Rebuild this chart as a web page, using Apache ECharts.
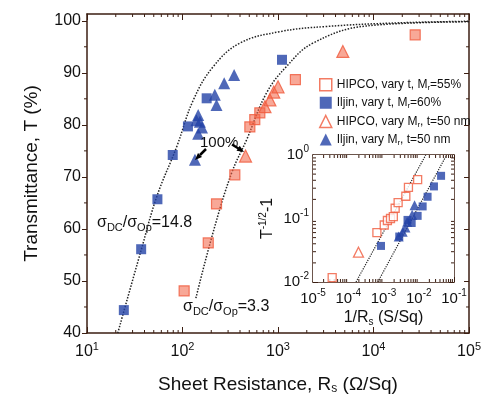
<!DOCTYPE html>
<html>
<head>
<meta charset="utf-8">
<script src="https://cdn.jsdelivr.net/npm/echarts@6/dist/echarts.min.js"></script>
<style>
html, body { margin: 0; padding: 0; background: #fff; }
#chart { width: 484px; height: 401px; }
</style>
</head>
<body>
<div id="chart"></div>
<script>
'use strict';

// main plot, [sheet resistance (ohm/sq), transmittance (%)]
var hipcoVaryT = [[104, 48.1], [186, 57.3], [227, 64.8], [353, 70.4], [507, 79.6], [571, 81.0], [645, 82.3], [1520, 88.7], [27300, 97.3]];
var iljinVaryT = [[24.3, 44.4], [36.9, 56.1], [54.6, 65.7], [79, 74.2], [114, 79.7], [179, 85.1], [1100, 92.5]];
var hipcoVaryM = [[457, 74.0], [730, 83.5], [822, 84.8], [902, 86.3], [1000, 87.3], [4770, 94.1]];
var iljinVaryM = [[135, 73.3], [146, 78.3], [152, 80.6], [140, 80.9], [146, 81.9], [160, 79.5], [227, 83.8], [218, 85.8], [273, 88.0], [347, 89.6]];

// dotted fit curves
var fit148 = [[21, 40], [37, 56], [54, 66.3], [87, 75.8], [130, 84.8], [210, 91.2], [398, 95.7], [1042, 97.9], [3200, 98.9], [18700, 99.6], [100000, 99.9]];
var fit33 = [[138, 46.7], [208, 59.2], [326, 70.7], [468, 77.1], [757, 86.1], [1225, 91.2], [2317, 95.7], [8380, 99.0], [100000, 99.8]];

// inset, [1/Rs (S/sq), T^-1/2 - 1]
var inHipcoT = [[3.5e-5, 0.0117], [6.5e-4, 0.060], [1.05e-3, 0.079], [1.29e-3, 0.093], [1.58e-3, 0.10], [1.9e-3, 0.107], [2.14e-3, 0.145], [2.6e-3, 0.178], [4.3e-3, 0.224], [5.1e-3, 0.31], [9.3e-3, 0.41]];
var inIljinT = [[8.5e-4, 0.037], [2.8e-3, 0.052], [4.8e-3, 0.095], [6.3e-3, 0.085], [9.3e-3, 0.11], [0.0129, 0.155], [0.0178, 0.22], [0.027, 0.32], [0.043, 0.47]];
var inHipcoM = [[1.95e-4, 0.0295]];
var inIljinM = [[7.6e-3, 0.162], [6.5e-3, 0.115], [4.7e-3, 0.089], [4.2e-3, 0.072], [3.5e-3, 0.062], [2.7e-3, 0.052]];
var inFit148 = [[6.9e-4, 0.01], [0.0617, 1]];
var inFit33 = [[1.66e-4, 0.01], [0.0158, 1]];

var yTicks = [40, 50, 60, 70, 80, 90, 100];
var yMinor = [45, 55, 65, 75, 85, 95];
var names = ['HIPCO, vary t, Mr=55%', 'Iljin, vary t, Mr=60%', 'HIPCO, vary Mr, t=50 nm', 'Iljin, vary Mr, t=50 nm'];
var legendRich = {};
legendRich[names[0]] = '{n|HIPCO, vary t, M}{s|r}{n|=55%}';
legendRich[names[1]] = '{n|Iljin, vary t, M}{s|r}{n|=60%}';
legendRich[names[2]] = '{n|HIPCO, vary M}{s|r}{n|, t=50 nm}';
legendRich[names[3]] = '{n|Iljin, vary M}{s|r}{n|, t=50 nm}';

var RED = '#f05a3c';
var BLUE = '#2342a6';
var AXIS = '#3b1e12';
var FONT = 'Liberation Sans';

function logDecades(e0, e1) {
    var out = [];
    for (var e = e0; e < e1; e++) {
        for (var m = 2; m < 10; m++) out.push(m * Math.pow(10, e));
    }
    return out;
}

function powLabel(size, sup) {
    return {
        formatter: function (v) {
            var e = Math.round(Math.log10(v));
            return '{b|10}{p|' + e + '}';
        },
        rich: {
            b: { fontSize: size, fontFamily: FONT, color: '#111' },
            p: { fontSize: sup, fontFamily: FONT, color: '#111', padding: [0, 0, 11, 0] }
        }
    };
}

// little minor ticks on log axes and between y labels
function minorTicks(g, xVals, yVals, xr, yr, leftOut) {
    var data = xVals.map(function (v) { return [v, yr[0], 0]; })
        .concat(yVals.map(function (v) { return [xr[0], v, 1]; }));
    return {
        type: 'custom', xAxisIndex: g * 2, yAxisIndex: g * 2, silent: true, clip: false, z: 6,
        data: data,
        renderItem: function (params, api) {
            var st = { stroke: AXIS, lineWidth: 1 };
            if (api.value(2) === 0) {
                var b = api.coord([api.value(0), yr[0]]), t = api.coord([api.value(0), yr[1]]);
                return { type: 'group', children: [
                    { type: 'line', shape: { x1: b[0], y1: b[1], x2: b[0], y2: b[1] - 3 }, style: st },
                    { type: 'line', shape: { x1: t[0], y1: t[1], x2: t[0], y2: t[1] + 3 }, style: st }
                ] };
            }
            var l = api.coord([xr[0], api.value(1)]), r = api.coord([xr[1], api.value(1)]);
            var d = leftOut ? -3 : 3;
            return { type: 'group', children: [
                { type: 'line', shape: { x1: l[0], y1: l[1], x2: l[0] + d, y2: l[1] }, style: st },
                { type: 'line', shape: { x1: r[0], y1: r[1], x2: r[0] - 3, y2: r[1] }, style: st }
            ] };
        }
    };
}

function frameAxis(extra) {
    var base = {
        axisLine: { show: true, lineStyle: { color: AXIS, width: 1.5 } },
        splitLine: { show: false },
        axisTick: { inside: true, length: 5, lineStyle: { color: AXIS } }
    };
    return Object.assign(base, extra);
}

var fitLine = { type: 'dotted', color: '#222', width: 1.5 };

var option = {
    animation: false,
    grid: [
        { left: 87, right: 14, top: 14, bottom: 68 },
        { left: 313, right: 30, top: 155, bottom: 119, show: true, backgroundColor: '#fff', borderWidth: 0, z: 4 }
    ],
    legend: {
        orient: 'vertical', left: 314, top: 73, itemWidth: 12, itemHeight: 12, itemGap: 5,
        formatter: function (n) { return legendRich[n]; },
        textStyle: {
            rich: {
                n: { fontSize: 12, fontFamily: FONT, color: '#111' },
                s: { fontSize: 8, fontFamily: FONT, color: '#111', padding: [6, 0, 0, 0] }
            }
        },
        data: [
            { name: names[0], icon: 'rect', itemStyle: { color: '#fff', borderColor: RED, borderWidth: 1.5 } },
            { name: names[1], icon: 'rect', itemStyle: { color: BLUE } },
            { name: names[2], icon: 'triangle', itemStyle: { color: '#fff', borderColor: RED, borderWidth: 1.5 } },
            { name: names[3], icon: 'triangle', itemStyle: { color: BLUE } }
        ]
    },
    xAxis: [
        frameAxis({
            type: 'log', gridIndex: 0, min: 10, max: 100000, position: 'bottom',
            axisTick: { inside: true, length: 6, lineStyle: { color: AXIS } },
            axisLabel: Object.assign(powLabel(16, 11), { margin: 8 }),
            name: '{n|Sheet Resistance, R}{s|s}{n| (Ω/Sq)}', nameLocation: 'middle', nameGap: 41,
            nameTextStyle: { rich: {
                n: { fontSize: 19, fontFamily: FONT, color: '#111' },
                s: { fontSize: 12, fontFamily: FONT, color: '#111', padding: [9, 0, 0, 0] }
            } }
        }),
        frameAxis({
            type: 'log', gridIndex: 0, min: 10, max: 100000, position: 'top',
            axisTick: { inside: true, length: 6, lineStyle: { color: AXIS } },
            axisLabel: { show: false }
        }),
        frameAxis({
            type: 'log', gridIndex: 1, min: 1e-5, max: 0.1, position: 'bottom',
            axisLabel: Object.assign(powLabel(15, 10), { margin: 6 }),
            name: '{n|1/R}{s|s}{n| (S/Sq)}', nameLocation: 'middle', nameGap: 27,
            nameTextStyle: { rich: {
                n: { fontSize: 16, fontFamily: FONT, color: '#111' },
                s: { fontSize: 10, fontFamily: FONT, color: '#111', padding: [8, 0, 0, 0] }
            } }
        }),
        frameAxis({
            type: 'log', gridIndex: 1, min: 1e-5, max: 0.1, position: 'top',
            axisLabel: { show: false }
        })
    ],
    yAxis: [
        frameAxis({
            type: 'value', gridIndex: 0, min: 40, max: 101.3, position: 'left',
            axisTick: { inside: false, length: 5, customValues: yTicks, lineStyle: { color: AXIS } },
            axisLabel: { customValues: yTicks, fontSize: 16, fontFamily: FONT, color: '#111', margin: 6 },
            name: 'Transmittance, T (%)', nameLocation: 'middle', nameGap: 46,
            nameTextStyle: { fontSize: 19, fontFamily: FONT, color: '#111' }
        }),
        frameAxis({
            type: 'value', gridIndex: 0, min: 40, max: 101.3, position: 'right',
            axisTick: { inside: true, length: 5, customValues: yTicks, lineStyle: { color: AXIS } },
            axisLabel: { show: false }
        }),
        frameAxis({
            type: 'log', gridIndex: 1, min: 0.01, max: 1, position: 'left',
            axisLabel: Object.assign(powLabel(15, 10), { margin: 4 }),
            name: '{n|T}{p|-1/2}{n|-1}', nameLocation: 'middle', nameGap: 35, nameRotate: 90,
            nameTextStyle: { rich: {
                n: { fontSize: 16, fontFamily: FONT, color: '#111' },
                p: { fontSize: 10, fontFamily: FONT, color: '#111', padding: [0, 0, 10, 0] }
            } }
        }),
        frameAxis({
            type: 'log', gridIndex: 1, min: 0.01, max: 1, position: 'right',
            axisLabel: { show: false }
        })
    ],
    graphic: [
        { type: 'text', x: 97, y: 223, z: 10, style: {
            text: '{a|σ}{b|DC}{a|/σ}{b|Op}{a|=14.8}', verticalAlign: 'middle',
            rich: {
                a: { fontSize: 16, fontFamily: FONT, fill: '#111' },
                b: { fontSize: 11, fontFamily: FONT, fill: '#111', padding: [9, 0, 0, 0] }
            } } },
        { type: 'text', x: 183, y: 307, z: 10, style: {
            text: '{a|σ}{b|DC}{a|/σ}{b|Op}{a|=3.3}', verticalAlign: 'middle',
            rich: {
                a: { fontSize: 16, fontFamily: FONT, fill: '#111' },
                b: { fontSize: 11, fontFamily: FONT, fill: '#111', padding: [9, 0, 0, 0] }
            } } },
        { type: 'text', x: 200, y: 143, z: 10, style: {
            text: '100%', fontSize: 15, fontFamily: FONT, fill: '#111', verticalAlign: 'middle' } },
        { type: 'polyline', z: 10, shape: { points: [[206, 149], [200, 155]] }, style: { stroke: '#000', lineWidth: 2.5 } },
        { type: 'polygon', z: 10, shape: { points: [[195, 160], [202, 157], [198, 153]] }, style: { fill: '#000' } },
        { type: 'polyline', z: 10, shape: { points: [[232, 144.5], [238.5, 148.5]] }, style: { stroke: '#000', lineWidth: 2.5 } },
        { type: 'polygon', z: 10, shape: { points: [[244, 152], [236.5, 150.7], [239.7, 145.7]] }, style: { fill: '#000' } }
    ],
    series: [
        { type: 'line', xAxisIndex: 0, yAxisIndex: 0, data: fit148, showSymbol: false, smooth: 0.4, lineStyle: fitLine, silent: true, z: 2 },
        { type: 'line', xAxisIndex: 0, yAxisIndex: 0, data: fit33, showSymbol: false, smooth: 0.4, lineStyle: fitLine, silent: true, z: 2 },
        { name: names[0], type: 'scatter', xAxisIndex: 0, yAxisIndex: 0, data: hipcoVaryT, symbol: 'rect', symbolSize: 10,
          itemStyle: { color: 'rgba(242,100,70,0.7)', borderColor: RED, borderWidth: 1.2 }, z: 3 },
        { name: names[1], type: 'scatter', xAxisIndex: 0, yAxisIndex: 0, data: iljinVaryT, symbol: 'rect', symbolSize: 10,
          itemStyle: { color: BLUE }, z: 3 },
        { name: names[2], type: 'scatter', xAxisIndex: 0, yAxisIndex: 0, data: hipcoVaryM, symbol: 'triangle', symbolSize: 12,
          itemStyle: { color: 'rgba(242,100,70,0.7)', borderColor: RED, borderWidth: 1.2 }, z: 3 },
        { name: names[3], type: 'scatter', xAxisIndex: 0, yAxisIndex: 0, data: iljinVaryM, symbol: 'triangle', symbolSize: 12,
          itemStyle: { color: BLUE }, z: 3 },

        { type: 'line', xAxisIndex: 2, yAxisIndex: 2, data: inFit148, showSymbol: false, lineStyle: { type: 'dotted', color: '#222', width: 1.2 }, silent: true, z: 5 },
        { type: 'line', xAxisIndex: 2, yAxisIndex: 2, data: inFit33, showSymbol: false, lineStyle: { type: 'dotted', color: '#222', width: 1.2 }, silent: true, z: 5 },
        { name: names[0], type: 'scatter', xAxisIndex: 2, yAxisIndex: 2, data: inHipcoT, symbol: 'rect', symbolSize: 8,
          itemStyle: { color: '#fff', borderColor: RED, borderWidth: 1.3 }, z: 6 },
        { name: names[1], type: 'scatter', xAxisIndex: 2, yAxisIndex: 2, data: inIljinT, symbol: 'rect', symbolSize: 8,
          itemStyle: { color: BLUE }, z: 6 },
        { name: names[2], type: 'scatter', xAxisIndex: 2, yAxisIndex: 2, data: inHipcoM, symbol: 'triangle', symbolSize: 10,
          itemStyle: { color: '#fff', borderColor: RED, borderWidth: 1.3 }, z: 6 },
        { name: names[3], type: 'scatter', xAxisIndex: 2, yAxisIndex: 2, data: inIljinM, symbol: 'triangle', symbolSize: 10,
          itemStyle: { color: BLUE }, z: 6 },

        minorTicks(0, logDecades(1, 5), yMinor, [10, 100000], [40, 101.3], true),
        minorTicks(1, logDecades(-5, -1), logDecades(-2, 0), [1e-5, 0.1], [0.01, 1], false)
    ]
};

var myChart = echarts.init(document.getElementById('chart'));
myChart.setOption(option);
</script>
</body>
</html>
